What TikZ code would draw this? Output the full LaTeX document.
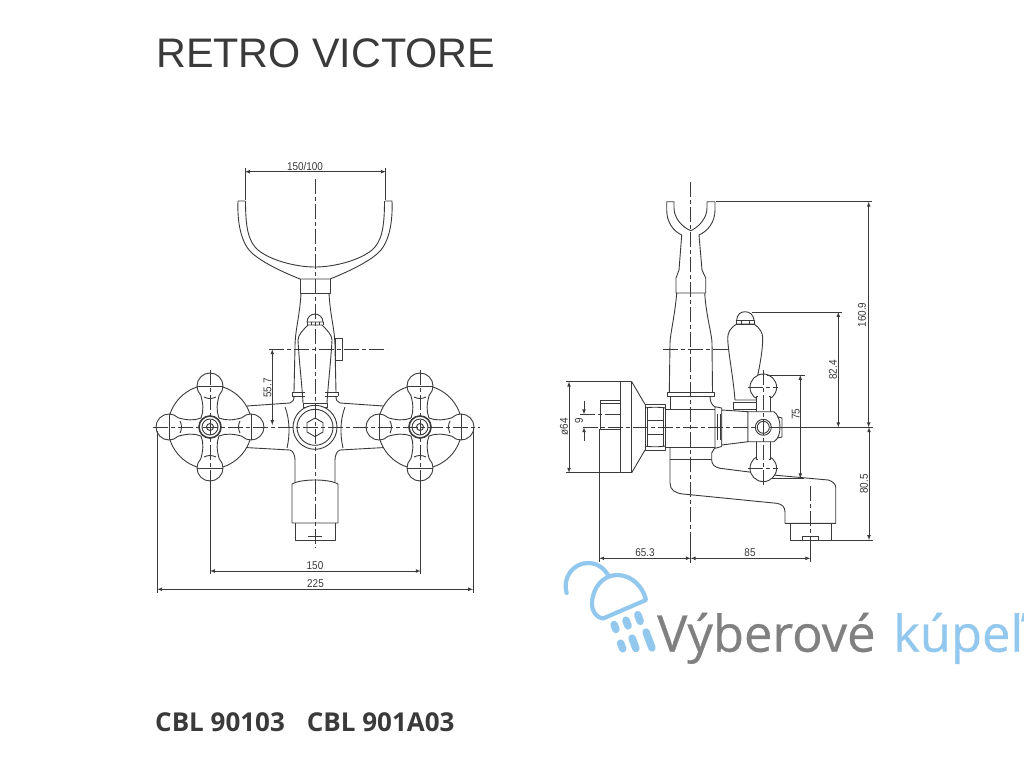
\documentclass[tikz,border=0pt]{standalone}
\usepackage{fontspec}
\setmainfont{Liberation Sans}
\newfontfamily\logofont{Open Sans}
\newfontfamily\shopfont[FakeBold=0.5]{Open Sans}
\newfontfamily\dimfont[FakeStretch=0.88]{Liberation Sans}
\definecolor{inkgray}{HTML}{3A3A3A}
\definecolor{logoblue}{HTML}{93C8EE}
\definecolor{logogray}{HTML}{808080}
\newcommand{\lobePath}{(9,-9) .. controls (16,-6) and (24,-7) .. (31.8,-9.2) arc[start angle=225, end angle=495, radius=13] .. controls (24,7) and (16,6) .. (9,9)}
\tikzset{
  part/.style={draw=inkgray, line width=0.9pt, line join=round},
  axis/.style={draw=inkgray, line width=0.7pt, dash pattern=on 15pt off 3pt on 4pt off 3pt},
  dimline/.style={draw=inkgray, line width=0.7pt, latex-latex},
  extline/.style={draw=inkgray, line width=0.7pt},
  dimtext/.style={font=\dimfont\fontsize{11.3}{11}\selectfont, text=inkgray, inner sep=0pt},
  logoline/.style={draw=logoblue, line width=4.2pt, line cap=round, line join=round},
  handwheel/.pic={
    \draw[part, fill=white] (0,0) circle[radius=42];
    \foreach \turn in {0,90,180,270} {
      \fill[white, rotate=\turn] \lobePath -- (0,0) -- cycle;
      \draw[part, rotate=\turn] \lobePath;
      \draw[part, rotate=\turn] (30,-6) .. controls (28,-2) and (28,2) .. (30,6);
      \draw[part, rotate=\turn] (41,-13) -- (41,13);
    }
    \draw[draw=inkgray, line width=1.6pt] (0,0) circle[radius=11];
    \draw[part] (0,0) circle[radius=8] (0,0) circle[radius=3.5];
  }
}
\begin{document}
\begin{tikzpicture}[x=1pt, y=-1pt]
  \useasboundingbox (0,0) rectangle (1024,768);
  \fill[white] (0,0) rectangle (1024,768);

  \node[anchor=base west, inner sep=0pt, text=inkgray, font=\fontsize{41.3}{42}\selectfont] (title) at (156,67) {RETRO VICTORE};
  \node[anchor=base west, inner sep=0pt, text=inkgray, font=\logofont\bfseries\fontsize{26}{26}\selectfont] (code) at (155,731) {CBL 90103\hspace{22pt}CBL 901A03};

  % front view
  \foreach \s in {1,-1} {
    \begin{scope}[xshift=315pt, xscale=\s]
      \draw[part] (-70,201) -- (-77,201) .. controls (-78,225) and (-73,245) .. (-62,254) .. controls (-50,264) and (-30,273) .. (-15,279) -- (0,279);
      \draw[part] (0,267) .. controls (-20,267) and (-45,260) .. (-57,250) .. controls (-66,242) and (-69.5,230) .. (-69.5,201);
      \draw[part] (-15,279) -- (-15,293) -- (0,293);
      \draw[part] (-14,293) .. controls (-15,315) and (-20,330) .. (-20,347) -- (-21,392);
      \draw[part] (-23,392) -- (-10,392) (-23,396) -- (-10,396) (-23,392) -- (-23,396);
      \draw[part] (-21,396) .. controls (-21,400) and (-22,402) .. (-25,403) -- (-97,408);
      \draw[part] (-97,446) -- (-25,450) .. controls (-22,451) and (-20,455) .. (-20,460) -- (-20,482);
      \draw[part] (-30,407) .. controls (-25,420) and (-25,435) .. (-28,448);
      \draw[part] (0,480) .. controls (-8,480) and (-18,481) .. (-23,484) -- (-23,523) -- (0,523);
      \draw[part] (-20,523) -- (-20,540) -- (0,540);
      \draw[part] (-7,536) -- (7,536);
      \draw[part, fill=white] (0,403) -- (-12,403) -- (-12,407) -- (0,407);
      \draw[part] (0,325) -- (-7,325) .. controls (-12,330) and (-17,335) .. (-17,340) .. controls (-16,360) and (-13,385) .. (-12,403);
      \draw[part] (-8,322) -- (-8,325) (-4,322) -- (-4,325);
      \draw[part] (0,322) -- (-8,322) arc[start angle=180, end angle=270, radius=8] -- (0,314);
      \path (-105,427) pic {handwheel};
    \end{scope}
  }
  \draw[part, fill=white] (335,338) rectangle (342,360);
  \draw[part, fill=white] (315,427.3) circle[radius=22];
  \draw[part] (315,427.3) circle[radius=18];
  \draw[part] (315,418) -- ++(8,4.6) -- ++(0,9.4) -- ++(-8,4.6) -- ++(-8,-4.6) -- ++(0,-9.4) -- cycle;
  \draw[axis] (315,179) -- (315,548);
  \draw[axis] (153,427.3) -- (480,427.3);
  \draw[axis] (269,349.3) -- (387,349.3);
  \draw[axis] (210,370) -- (210,486);
  \draw[axis] (420,370) -- (420,486);

  \draw[extline] (245,168) -- (245,200) (385.7,168) -- (385.7,200);
  \draw[dimline] (245,171.7) -- (385.7,171.7);
  \node[dimtext] (topgap) at (305,166) {150/100};
  \draw[dimline] (272.3,349.3) -- (272.3,425);
  \node[dimtext, rotate=90] (leverrise) at (267.5,388) {55.7};
  \draw[extline] (210,480) -- (210,574) (420.7,480) -- (420.7,574);
  \draw[dimline] (210,571) -- (420.7,571);
  \node[dimtext] (wheelgap) at (315,565.5) {150};
  \draw[extline] (157.3,431) -- (157.3,593) (473,431) -- (473,593);
  \draw[dimline] (157.3,589.3) -- (473,589.3);
  \node[dimtext] (overall) at (315.5,584) {225};

  % side view
  \draw[part] (670,447.3) -- (670,483) .. controls (670,490) and (675,493) .. (683,494) -- (776.7,503.3) .. controls (782,504) and (785,507) .. (785,512) -- (785,523.3) -- (835.7,523.3) -- (835.7,487) .. controls (835.7,484) and (832,481) .. (828.3,480) -- (773,475) -- (720,468.3) .. controls (714,467) and (711.7,464) .. (711.7,460) -- (711.7,453) -- (715,447.3);
  \draw[part] (670,459.3) -- (711.7,459.3);
  \draw[part] (790.7,523.3) -- (790.7,540) -- (831,540) -- (831,523.3);
  \draw[part] (802.7,536) -- (818,536) (802.7,540) -- (802.7,536) (818,540) -- (818,536);
  % fork and column
  \draw[part] (666.7,201.7) -- (674,201.7) -- (674,208) .. controls (674,218) and (682,227) .. (690.7,230.7) .. controls (699,227) and (707,218) .. (707,208) -- (707,201.7) -- (715,201.7) -- (715,210) .. controls (715,222) and (708,231) .. (699,235) -- (702,270) -- (705.7,278) -- (705.7,293) -- (676,293) -- (676,278) -- (679,270) -- (681.7,235) .. controls (673,231) and (666.7,222) .. (666.7,210) -- cycle;
  \draw[part] (676.7,293) .. controls (675,315) and (670,335) .. (670,343) -- (669.3,392);
  \draw[part] (704.7,293) .. controls (706,315) and (712,335) .. (712,343) -- (712.5,392);
  \draw[part] (667,392) rectangle (714,396.5);
  \draw[part] (670.7,396.5) -- (670.7,409.3);
  \draw[part] (710,396.5) .. controls (710,402) and (712,405) .. (715,407);
  % wall plate
  \draw[part, fill=white] (620,381.7) rectangle (631.7,472.7);
  \draw[part] (631.7,381.7) -- (645,404.3) (631.7,472.7) -- (645,450);
  \draw[part] (620,400.7) -- (600,400.7) -- (600,429.3) -- (620,429.3);
  \draw[part] (620,400.7) -- (620,429.3) (600,403) -- (620,403);
  \draw[part] (645,404.3) rectangle (665,450);
  \draw[part] (645,408) .. controls (648,407) and (662,407) .. (665,408) (645,446) .. controls (648,447) and (662,447) .. (665,446);
  \draw[part] (647,408) -- (647,446) (663,408) -- (663,446) (647,420) -- (663,420) (647,434) -- (663,434);
  \draw[part] (665,409.3) -- (715,409.3) (665,447.3) -- (715,447.3);
  % lever
  \draw[part, fill=white] (736.7,324) .. controls (730,328) and (727.7,333) .. (727.7,338) .. controls (728,352) and (733,375) .. (735,400) -- (756.7,400) -- (756.7,380) .. controls (760,365) and (762.7,350) .. (762.7,338) .. controls (762.7,333) and (760,328) .. (754,324) -- cycle;
  \draw[part] (736.7,320) rectangle (754,324);
  \draw[part] (736.7,320) .. controls (737,315) and (740,311.7) .. (745,311.7) .. controls (750,311.7) and (753.5,315) .. (754,320);
  \draw[part] (741,320) -- (741,324) (749,320) -- (749,324);
  \draw[part] (733,402) rectangle (757,409.3);
  % valve and handle
  \draw[part, fill=white] (715,406.7) -- (721.7,408) -- (721.7,446.5) -- (715,448.3) -- cycle;
  \draw[part] (717.5,414) -- (717.5,440) (720,414) -- (720,440);
  \draw[part, fill=white] (721.7,410) -- (748,411.7) -- (748,441.7) -- (721.7,445) -- cycle;
  \draw[part, fill=white] (763.3,387.3) circle[radius=13.3];
  \draw[part, fill=white] (763.3,468.3) circle[radius=13.3];
  \draw[part, fill=white] (756.7,396) -- (756.7,459) -- (770,459) -- (770,396) -- cycle;
  \fill[white] (757.5,394) rectangle (769.2,400);
  \fill[white] (757.5,456) rectangle (769.2,462);
  \draw[part, fill=white] (748,411.7) -- (774,411.7) .. controls (778,415) and (780,420) .. (780,427.3) .. controls (780,434) and (778,439) .. (774,441.7) -- (748,441.7) -- cycle;
  \draw[part] (777,416.7) -- (782,418) -- (782,437) -- (777,438);
  \draw[part] (763.3,427.3) circle[radius=8] (763.3,427.3) circle[radius=6];
  \draw[axis] (690.7,182) -- (690.7,563);
  \draw[axis] (580,414.3) -- (623,414.3);
  \draw[axis] (662.7,349.3) -- (730,349.3);
  \draw[axis] (583,427.3) -- (755,427.3);
  \draw[axis] (763.3,370) -- (763.3,485);
  \draw[axis] (748,387.3) -- (778,387.3);
  \draw[axis] (748,468.3) -- (778,468.3);
  \draw[axis] (810.3,486) -- (810.3,562);

  \draw[extline] (770,427.3) -- (872.7,427.3);
  \draw[extline] (716,201.7) -- (872.3,201.7) (751.7,312) -- (841.7,312) (766.7,375) -- (805,375) (772,478.3) -- (804,478.3) (831,540) -- (872.7,540);
  \draw[dimline] (868.7,201.7) -- (868.7,427.3);
  \node[dimtext, rotate=90] (totalheight) at (862,315) {160.9};
  \draw[dimline] (838.3,312) -- (838.3,427.3);
  \node[dimtext, rotate=90] (leverheight) at (833,370) {82.4};
  \draw[dimline] (800.3,375) -- (800.3,478.3);
  \node[dimtext, rotate=90] (handlespan) at (795.7,414) {75};
  \draw[dimline] (869,427.3) -- (869,540);
  \node[dimtext, rotate=90] (spoutdrop) at (864,484) {80.5};
  \draw[extline] (566,381.7) -- (620,381.7) (566,472.7) -- (620,472.7);
  \draw[dimline] (569,381.7) -- (569,472.7);
  \node[dimtext, rotate=90] (platedia) at (564,427) {ø64};
  \draw[-latex, extline] (584,400.7) -- (584,414.3);
  \draw[-latex, extline] (584,441) -- (584,427.3);
  \node[dimtext, rotate=90] (stubgap) at (579,420.7) {9};
  \draw[extline] (599.3,429) -- (599.3,562) (690.7,540) -- (690.7,563) (810.3,540) -- (810.3,562);
  \draw[dimline] (599.3,558.3) -- (690.7,558.3);
  \draw[dimline] (690.7,558.3) -- (810.3,558.3);
  \node[dimtext] (wallgap) at (645,552.5) {65.3};
  \node[dimtext] (spoutreach) at (750,552.5) {85};

  % logo
  \draw[logoline] (566.7,593) .. controls (562,578) and (573,563) .. (588,563) .. controls (597,563) and (604,568) .. (608,575);
  \draw[logoline] (603,618.5) .. controls (597,618) and (592,612) .. (592,604) .. controls (592,588) and (603,575) .. (617,575) .. controls (632,575) and (643,587) .. (646,600) -- cycle;
  \foreach \dx/\dy/\dl in {615/627/2.5, 627/623/3, 639/618/3.5, 621.7/646/3, 634/643.3/5.5, 649/640/8.5} {
    \draw[draw=logoblue, line width=7.5pt, line cap=round] (\dx-0.35*\dl,\dy-0.94*\dl) -- (\dx+0.35*\dl,\dy+0.94*\dl);
  }
  \node[anchor=base west, inner sep=0pt, text=logogray, font=\shopfont\fontsize{50.7}{51}\selectfont] (shopgray) at (657,651.7) {Výberové};
  \node[anchor=base west, inner sep=0pt, text=logoblue, font=\shopfont\fontsize{50.7}{51}\selectfont] (shopblue) at (893,651.7) {kúpeľ};
\end{tikzpicture}
\end{document}
